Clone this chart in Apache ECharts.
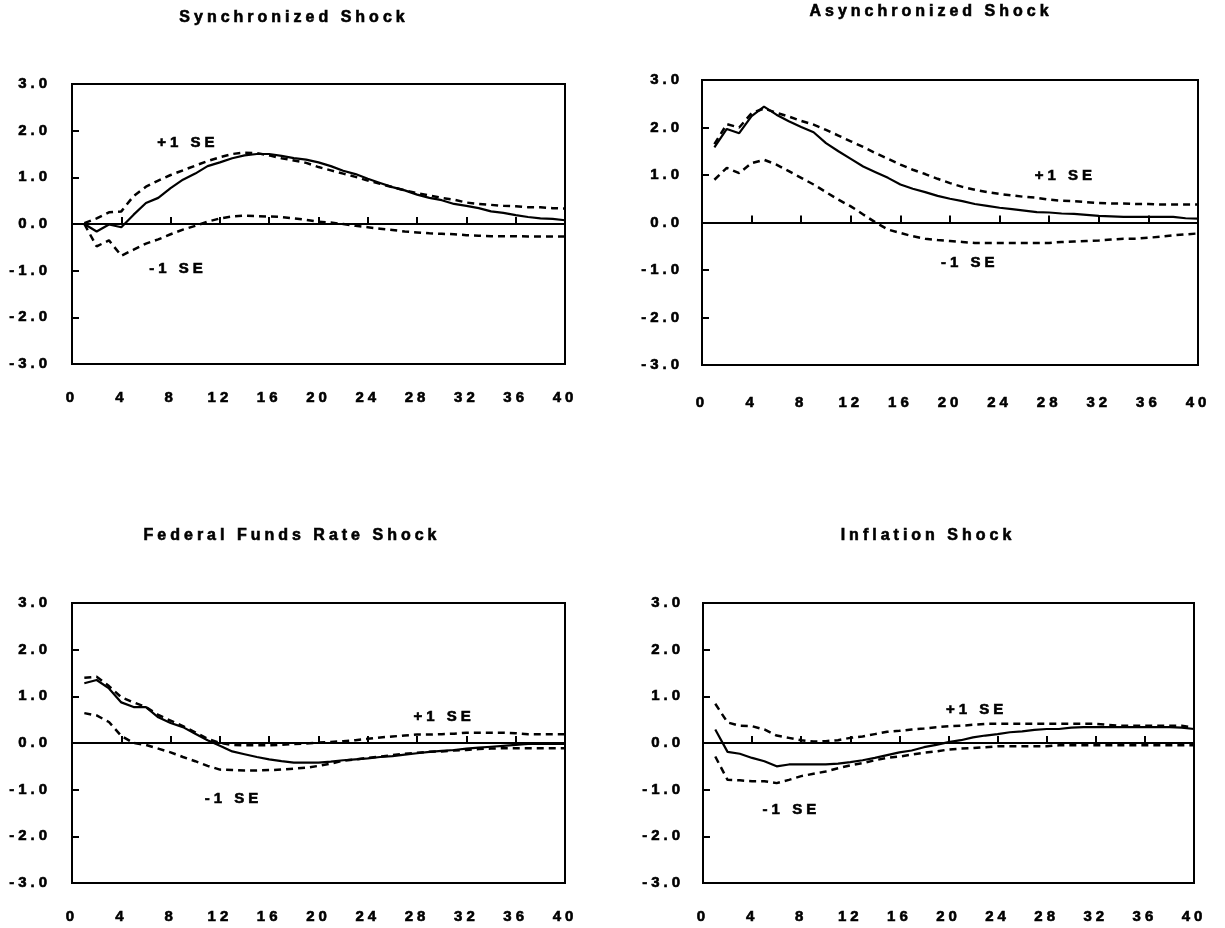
<!DOCTYPE html>
<html>
<head>
<meta charset="utf-8">
<title>Impulse responses</title>
<script src="https://cdn.jsdelivr.net/npm/echarts@6/dist/echarts.min.js"></script>
<style>
  html, body { margin: 0; padding: 0; background: #fff; }
  #chartArea { width: 1225px; height: 928px; }
</style>
</head>
<body>
<div id="chartArea"></div>
<script>
// horizons (quarters after the shock)
const horizon = [1, 2, 3, 4, 5, 6, 7, 8, 9, 10, 11, 12, 13, 14, 15, 16, 17, 18, 19, 20,
    21, 22, 23, 24, 25, 26, 27, 28, 29, 30, 31, 32, 33, 34, 35, 36, 37, 38, 39, 40];

const panelTitles = ['Synchronized Shock', 'Asynchronized Shock', 'Federal Funds Rate Shock', 'Inflation Shock'];

// Synchronized shock
const syncIrf = [0.00, -0.16, -0.01, -0.07, 0.20, 0.45, 0.56, 0.77, 0.95, 1.08, 1.24, 1.32, 1.41, 1.47, 1.50, 1.50, 1.46, 1.41, 1.38, 1.32,
    1.24, 1.14, 1.07, 0.97, 0.88, 0.79, 0.72, 0.63, 0.56, 0.51, 0.43, 0.39, 0.34, 0.27, 0.24, 0.19, 0.15, 0.12, 0.11, 0.08];
const syncUpper = [0.02, 0.12, 0.25, 0.27, 0.60, 0.80, 0.93, 1.05, 1.15, 1.25, 1.35, 1.43, 1.50, 1.53, 1.52, 1.47, 1.41, 1.36, 1.31, 1.22,
    1.15, 1.08, 1.01, 0.93, 0.86, 0.79, 0.72, 0.66, 0.61, 0.56, 0.52, 0.46, 0.43, 0.41, 0.39, 0.38, 0.36, 0.36, 0.34, 0.33];
const syncLower = [0.00, -0.48, -0.35, -0.68, -0.55, -0.42, -0.33, -0.22, -0.12, -0.04, 0.05, 0.12, 0.16, 0.18, 0.17, 0.16, 0.15, 0.12, 0.09, 0.05,
    0.03, 0.00, -0.04, -0.07, -0.10, -0.13, -0.16, -0.18, -0.20, -0.21, -0.22, -0.24, -0.25, -0.26, -0.26, -0.26, -0.27, -0.27, -0.27, -0.27];

// Asynchronized shock
const asyncIrf = [1.58, 1.97, 1.88, 2.24, 2.44, 2.27, 2.13, 2.01, 1.90, 1.67, 1.50, 1.34, 1.18, 1.06, 0.94, 0.80, 0.71, 0.64, 0.56, 0.50,
    0.45, 0.39, 0.35, 0.31, 0.28, 0.25, 0.22, 0.21, 0.19, 0.18, 0.16, 0.14, 0.13, 0.12, 0.12, 0.12, 0.12, 0.12, 0.09, 0.08];
const asyncUpper = [1.65, 2.07, 2.00, 2.30, 2.40, 2.31, 2.23, 2.14, 2.06, 1.95, 1.83, 1.71, 1.59, 1.46, 1.34, 1.22, 1.11, 1.02, 0.92, 0.83,
    0.75, 0.69, 0.64, 0.60, 0.57, 0.54, 0.52, 0.48, 0.46, 0.45, 0.43, 0.41, 0.40, 0.40, 0.39, 0.39, 0.38, 0.38, 0.38, 0.38];
const asyncLower = [0.90, 1.15, 1.04, 1.25, 1.32, 1.22, 1.08, 0.94, 0.80, 0.64, 0.48, 0.34, 0.17, 0.00, -0.15, -0.22, -0.29, -0.34, -0.37, -0.39,
    -0.41, -0.43, -0.43, -0.43, -0.43, -0.43, -0.43, -0.43, -0.41, -0.40, -0.39, -0.38, -0.36, -0.34, -0.34, -0.32, -0.30, -0.27, -0.25, -0.23];

// Federal funds rate shock
const fedIrf = [1.28, 1.35, 1.17, 0.87, 0.77, 0.77, 0.55, 0.43, 0.34, 0.20, 0.06, -0.06, -0.18, -0.24, -0.30, -0.35, -0.39, -0.42, -0.42, -0.42,
    -0.40, -0.37, -0.35, -0.33, -0.30, -0.28, -0.25, -0.22, -0.19, -0.17, -0.15, -0.12, -0.10, -0.08, -0.06, -0.04, -0.02, -0.02, -0.02, -0.02];
const fedUpper = [1.40, 1.42, 1.22, 0.98, 0.87, 0.77, 0.60, 0.48, 0.36, 0.23, 0.09, 0.00, -0.04, -0.05, -0.05, -0.05, -0.04, -0.02, -0.01, 0.01,
    0.02, 0.04, 0.06, 0.09, 0.12, 0.14, 0.16, 0.18, 0.18, 0.19, 0.20, 0.22, 0.22, 0.22, 0.22, 0.21, 0.19, 0.19, 0.19, 0.19];
const fedLower = [0.64, 0.59, 0.45, 0.15, 0.00, -0.04, -0.12, -0.20, -0.30, -0.39, -0.49, -0.57, -0.58, -0.59, -0.59, -0.58, -0.57, -0.55, -0.53, -0.49,
    -0.44, -0.38, -0.35, -0.32, -0.29, -0.26, -0.23, -0.21, -0.19, -0.18, -0.16, -0.15, -0.13, -0.12, -0.11, -0.11, -0.11, -0.11, -0.11, -0.11];

// Inflation shock
const inflIrf = [0.29, -0.19, -0.23, -0.32, -0.39, -0.50, -0.46, -0.46, -0.46, -0.46, -0.44, -0.41, -0.37, -0.32, -0.26, -0.20, -0.16, -0.09, -0.04, 0.02,
    0.06, 0.12, 0.16, 0.19, 0.23, 0.25, 0.28, 0.30, 0.30, 0.33, 0.34, 0.34, 0.34, 0.34, 0.34, 0.34, 0.34, 0.34, 0.33, 0.30];
const inflUpper = [0.84, 0.44, 0.37, 0.36, 0.29, 0.16, 0.11, 0.06, 0.03, 0.04, 0.06, 0.11, 0.14, 0.19, 0.24, 0.26, 0.29, 0.31, 0.34, 0.36,
    0.37, 0.39, 0.41, 0.41, 0.41, 0.41, 0.41, 0.41, 0.41, 0.41, 0.41, 0.41, 0.39, 0.37, 0.37, 0.37, 0.37, 0.37, 0.37, 0.33];
const inflLower = [-0.29, -0.79, -0.80, -0.82, -0.82, -0.86, -0.79, -0.71, -0.66, -0.61, -0.54, -0.48, -0.43, -0.37, -0.32, -0.29, -0.25, -0.21, -0.18, -0.14,
    -0.12, -0.11, -0.09, -0.07, -0.07, -0.07, -0.07, -0.07, -0.05, -0.05, -0.05, -0.05, -0.05, -0.05, -0.05, -0.05, -0.05, -0.05, -0.05, -0.05];

// where the "+1 SE" / "-1 SE" notes sit, in data units of each panel
const plusLabelAt = [[9.4, 1.74], [29.3, 0.99], [30.2, 0.57], [22.3, 0.72]];
const minusLabelAt = [[8.6, -0.96], [21.6, -0.84], [13.1, -1.19], [7.2, -1.43]];

// the original uses widely spaced lettering: give canvas text some tracking
['fillText', 'strokeText', 'measureText'].forEach(function(name) {
    const orig = CanvasRenderingContext2D.prototype[name];
    CanvasRenderingContext2D.prototype[name] = function() {
        this.letterSpacing = '4px';
        return orig.apply(this, arguments);
    };
});

const FONT = '"Liberation Sans", Arial, sans-serif';

// panel boxes
const grids = [
    { left: 72, top: 84, width: 493, height: 280 },
    { left: 702, top: 80, width: 496, height: 285 },
    { left: 72, top: 603, width: 493, height: 280 },
    { left: 703, top: 603, width: 491, height: 280 }
];
const xLabelMargin = [24, 28, 24, 24];
const yLabelMargin = [21, 19, 21, 19];
const titlePos = [[294, 18], [931, 12], [292, 536], [928, 536]];

// heavier text, closer to the old bold Arial of the original
const textWeight = { color: '#000', fontFamily: FONT, fontWeight: 'bold', fontSize: 15, textBorderColor: '#000', textBorderWidth: 0.6 };

function pairs(values) {
    return horizon.map((h, i) => [h, values[i]]);
}

function noteLabel(text, coord) {
    return {
        symbol: 'rect',
        symbolSize: 1,
        itemStyle: { color: 'rgba(0,0,0,0)' },
        label: Object.assign({ show: true, position: 'inside' }, textWeight),
        data: [{ coord: coord, value: text, label: { formatter: text } }],
        silent: true
    };
}

function panelSeries(idx, irf, upper, lower) {
    const dashed = { color: '#000', width: 2.5, type: [7, 5] };
    return [
        {
            type: 'line', xAxisIndex: idx, yAxisIndex: idx,
            data: pairs(irf), showSymbol: false, symbol: 'none',
            lineStyle: { color: '#000', width: 2.2 },
            markLine: {
                silent: true, symbol: ['none', 'none'],
                label: { show: false },
                lineStyle: { color: '#000', width: 2, type: 'solid' },
                data: [{ yAxis: 0 }]
            }
        },
        {
            type: 'line', xAxisIndex: idx, yAxisIndex: idx,
            data: pairs(upper), showSymbol: false, symbol: 'none',
            lineStyle: dashed,
            markPoint: noteLabel('+1 SE', plusLabelAt[idx])
        },
        {
            type: 'line', xAxisIndex: idx, yAxisIndex: idx,
            data: pairs(lower), showSymbol: false, symbol: 'none',
            lineStyle: dashed,
            markPoint: noteLabel('-1 SE', minusLabelAt[idx])
        }
    ];
}

document.addEventListener('DOMContentLoaded', function() {
    const chart = echarts.init(document.getElementById('chartArea'));

    const xAxis = grids.map((g, i) => ({
        type: 'value', gridIndex: i, min: 0, max: 40, interval: 4,
        axisLine: { show: true, lineStyle: { color: '#000', width: 2 } },
        axisTick: { show: true, inside: true, length: 7, lineStyle: { color: '#000', width: 2 } },
        axisLabel: Object.assign({ margin: xLabelMargin[i] }, textWeight),
        splitLine: { show: false }
    }));

    const yAxis = grids.map((g, i) => ({
        type: 'value', gridIndex: i, min: -3, max: 3, interval: 1,
        axisLine: { show: true, lineStyle: { color: '#000', width: 2 } },
        axisTick: { show: true, inside: true, length: 7, lineStyle: { color: '#000', width: 2 } },
        axisLabel: Object.assign({ margin: yLabelMargin[i], formatter: v => v.toFixed(1) }, textWeight),
        splitLine: { show: false }
    }));

    const titles = panelTitles.map((t, i) => ({
        type: 'text', x: titlePos[i][0], y: titlePos[i][1],
        style: {
            text: t, fill: '#000', font: 'bold 16px ' + FONT,
            stroke: '#000', lineWidth: 0.6,
            align: 'center', verticalAlign: 'middle'
        }
    }));

    const option = {
        animation: false,
        backgroundColor: '#fff',
        grid: grids.map(g => Object.assign({ show: true, borderColor: '#000', borderWidth: 2, containLabel: false }, g)),
        xAxis: xAxis,
        yAxis: yAxis,
        graphic: titles,
        series: [].concat(
            panelSeries(0, syncIrf, syncUpper, syncLower),
            panelSeries(1, asyncIrf, asyncUpper, asyncLower),
            panelSeries(2, fedIrf, fedUpper, fedLower),
            panelSeries(3, inflIrf, inflUpper, inflLower)
        )
    };

    chart.setOption(option);
});
</script>
</body>
</html>
